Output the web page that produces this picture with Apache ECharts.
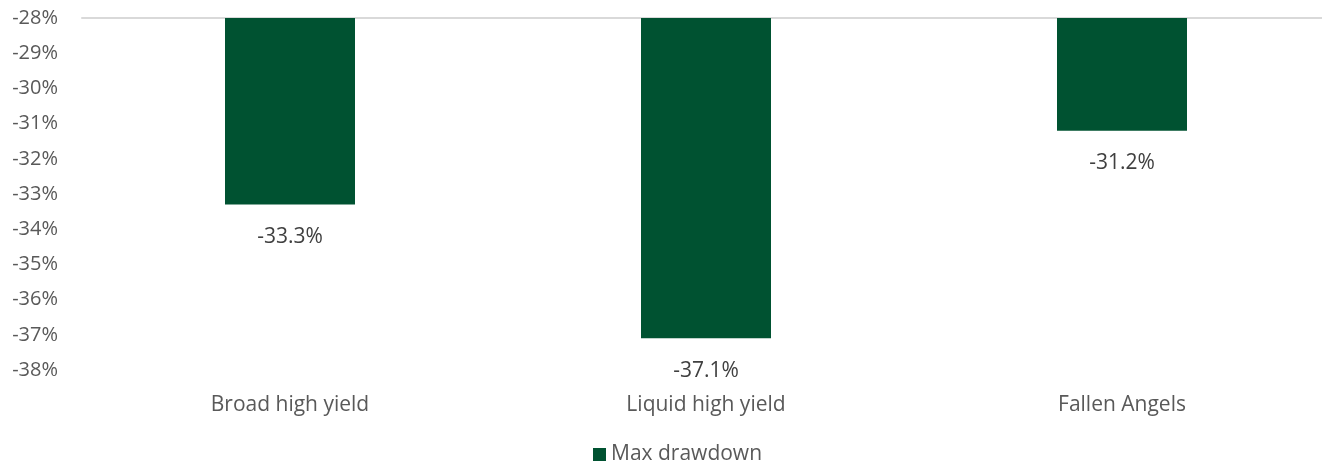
<!DOCTYPE html>
<html>
<head>
<meta charset="utf-8">
<script src="https://cdn.jsdelivr.net/npm/echarts@6/dist/echarts.min.js"></script>
<style>
  html, body { margin: 0; padding: 0; background: #fff; }
  #main { width: 1322px; height: 464px; }
</style>
</head>
<body>
<div id="main"></div>
<script>
// Datos del gráfico
const categorias = ["Broad high yield", "Liquid high yield", "Fallen Angels"];
const maxDrawdown = [-33.3, -37.1, -31.2];
const nombreSerie = "Max drawdown";

const colorTexto = "#595959";
const fuente = "Open Sans";

const initEChart = () => {
  const chartDom = document.getElementById("main");
  const myChart = echarts.init(chartDom);

  const option = {
    animation: false,
    textStyle: { fontFamily: fuente },
    grid: {
      left: 82,
      top: 18,
      width: 1248,
      height: 352,
      outerBoundsMode: "none", // permite que la rejilla salga del lienzo
    },
    legend: {
      top: 444,
      left: 593,
      padding: 0,
      itemWidth: 13,
      itemHeight: 13,
      itemGap: 6,
      icon: "rect",
      textStyle: { color: colorTexto, fontSize: 21, fontFamily: fuente },
      data: [nombreSerie],
    },
    xAxis: [
      {
        type: "category",
        data: categorias,
        position: "bottom",
        axisLine: { show: false },
        axisTick: { show: false },
        axisLabel: { color: colorTexto, fontSize: 21, margin: 25 },
      },
      {
        // línea superior en -28%
        type: "category",
        data: categorias,
        position: "top",
        axisLine: { show: true, lineStyle: { color: "#d9d9d9", width: 2 } },
        axisTick: { show: false },
        axisLabel: { show: false },
      },
    ],
    yAxis: {
      type: "value",
      min: -38,
      max: -28,
      interval: 1,
      axisLine: { show: false },
      axisTick: { show: false },
      splitLine: { show: false },
      axisLabel: {
        color: colorTexto,
        fontSize: 20,
        margin: 24,
        formatter: (v) => v + "%",
      },
    },
    series: [
      {
        name: nombreSerie,
        type: "bar",
        barWidth: 130,
        clip: true,
        itemStyle: { color: "#005231" },
        label: {
          show: true,
          position: "bottom",
          distance: 22,
          color: "#404040",
          fontSize: 21,
          formatter: (p) => p.value.toFixed(1) + "%",
        },
        data: maxDrawdown,
      },
    ],
  };

  myChart.setOption(option);
  return myChart;
};

let chartInstance = initEChart();
</script>
</body>
</html>
